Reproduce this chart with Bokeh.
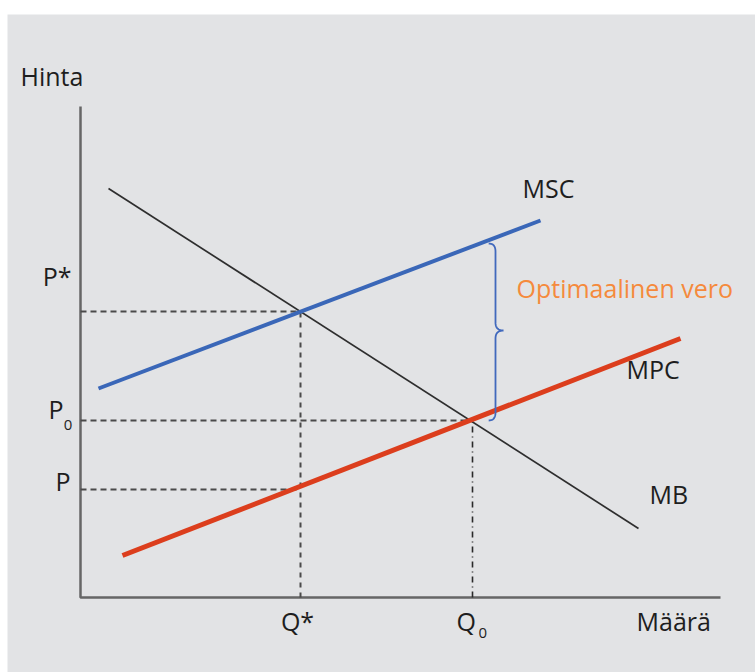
import numpy as np
from bokeh.plotting import figure
from bokeh.models import Range1d
from bokeh.core.properties import value
from bokeh.embed import file_html
from bokeh.resources import INLINE

# ---- data (economic units) ----
q_mb = [0.7, 13.95]
p_mb = [10.225, 1.725]
q_msc = [0.45, 11.5]
p_msc = [5.225, 9.425]
q_mpc = [1.05, 15.0]
p_mpc = [1.05, 6.475]

q_star = 5.5
p_star = 7.15
q_zero = 9.8
p_zero = 4.425
p_low = 2.7

x_axis_end = 16.0
y_axis_end = 12.275

brace_x = 10.375
brace_top = 8.85
brace_mid = 6.675
brace_bot = p_zero

curve_labels = ["MSC", "MPC", "MB"]
tax_label = "Optimaalinen vero"

FONT = value("Open Sans")
TXT = "#1e1e1e"

p = figure(width=755, height=672, output_backend="svg", toolbar_location=None,
           x_range=Range1d(-1.825, 16.875), y_range=Range1d(-1.875, 14.575),
           min_border_left=7, min_border_top=14, min_border_right=0, min_border_bottom=0,
           background_fill_color="#e2e3e5", border_fill_color="white")
p.axis.visible = False
p.grid.visible = False
p.outline_line_color = None

# axes
p.line([0, 0, x_axis_end], [y_axis_end, 0, 0], line_color="#666666", line_width=2.5)

# guide lines
p.line([0, q_star], [p_star, p_star], line_color="#4a4a4a", line_width=2, line_dash="6 4")
p.line([0, q_zero], [p_zero, p_zero], line_color="#4a4a4a", line_width=2, line_dash="6 4")
p.line([0, q_star], [p_low, p_low], line_color="#4a4a4a", line_width=2, line_dash="6 4")
p.line([q_star, q_star], [0, p_star], line_color="#4a4a4a", line_width=2, line_dash="5 5")
p.line([q_zero, q_zero], [0, p_zero], line_color="#2a2a2a", line_width=1.6, line_dash="6 4 1 4")

# curves
p.line(q_mb, p_mb, line_color="#2e2e2e", line_width=1.7)
p.line(q_msc, p_msc, line_color="#3a67b8", line_width=4)
p.line(q_mpc, p_mpc, line_color="#dc3e1d", line_width=5)

# brace
def quad(p0, c, p1, n=12):
    t = np.linspace(0, 1, n)[:, None]
    p0, c, p1 = map(np.array, (p0, c, p1))
    return (1 - t) ** 2 * p0 + 2 * (1 - t) * t * c + t ** 2 * p1

r, hook, tip = 0.2, 0.17, 0.2
pts = np.vstack([
    quad((brace_x - hook, brace_top), (brace_x, brace_top), (brace_x, brace_top - r)),
    quad((brace_x, brace_mid + r), (brace_x, brace_mid), (brace_x + tip, brace_mid)),
    quad((brace_x + tip, brace_mid), (brace_x, brace_mid), (brace_x, brace_mid - r)),
    quad((brace_x, brace_bot + r), (brace_x, brace_bot), (brace_x - hook, brace_bot)),
])
p.line(pts[:, 0], pts[:, 1], line_color="#4169bd", line_width=1.8)

# texts
def txt(x, y, s, size="25px", align="left", color=TXT):
    p.text([x], [y], text=[s], text_font=FONT, text_font_size=size,
           text_align=align, text_baseline="middle", text_color=color)

txt(-1.5, 13.05, "Hinta")
txt(13.9, -0.575, "Määrä")
txt(-0.225, p_star + 0.9, "P*", align="right")
txt(-0.425, p_zero + 0.28, "P", align="right")
txt(-0.42, p_zero - 0.1, "0", size="15px")
txt(-0.25, p_low + 0.225, "P", align="right")
txt(q_star - 0.075, -0.575, "Q*", align="center")
txt(q_zero - 0.4, -0.575, "Q", align="left")
txt(q_zero + 0.15, -0.875, "0", size="15px")
txt(11.05, 10.25, curve_labels[0])
txt(13.65, 5.725, curve_labels[1])
txt(14.225, 2.6, curve_labels[2])
txt(10.9, 7.75, tax_label, color="#f58a3c")

open("out.html", "w").write(file_html(p, INLINE))
